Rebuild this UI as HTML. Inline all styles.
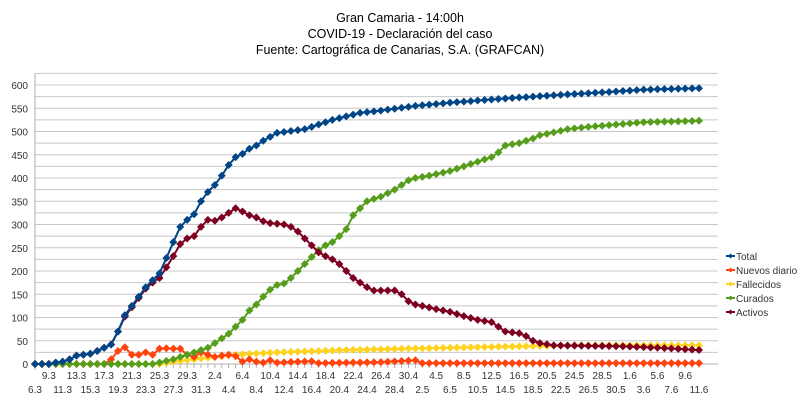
<!DOCTYPE html><html><head><meta charset="utf-8"><style>body{margin:0;background:#fff}svg{display:block;font-family:"Liberation Sans",sans-serif}</style></head><body>
<svg id="s" width="800" height="413" xmlns="http://www.w3.org/2000/svg">
<text x="400" y="22" font-size="12.5" text-anchor="middle">Gran Camaria - 14:00h</text>
<text x="400" y="38" font-size="12.5" text-anchor="middle">COVID-19 - Declaración del caso</text>
<text x="400" y="54" font-size="12.5" text-anchor="middle">Fuente: Cartográfica de Canarias, S.A. (GRAFCAN)</text>
<g id="g"></g>
</svg>
<script>
var NS="http://www.w3.org/2000/svg",g=document.getElementById('g');
function el(t,a,txt){var e=document.createElementNS(NS,t);for(var k in a)e.setAttribute(k,a[k]);if(txt!=null)e.textContent=txt;g.appendChild(e);return e;}
var X0=35,X1=718,Y0=364,K=0.465,N=97,DX=(699-35)/96;
function Y(v){return Y0-v*K}
for(var v=0;v<=625;v+=25){el('line',{x1:X0,x2:X1,y1:Y(v),y2:Y(v),stroke:'#c8c8c8','stroke-width':1});if(v%50==0)el('text',{x:28,y:Y(v)+4,'font-size':10,'text-anchor':'end',fill:'#333'},v)}
el('line',{x1:X0,x2:X0,y1:Y(625),y2:370,stroke:'#b0b0b0'});
el('line',{x1:X0,x2:X1,y1:Y0,y2:Y0,stroke:'#b0b0b0'});
var months=[[3,8,31],[4,1,30],[5,1,31],[6,1,11]],lab=['6.3'];
months.forEach(function(m){for(var d=m[1];d<=m[2];d++)lab.push(d+'.'+m[0])});
for(var i=0;i<N;i++){var x=X0+i*DX;el('line',{x1:x,x2:x,y1:Y0,y2:Y0+4,stroke:'#b0b0b0'});
if(i%2==0){var row=(i%4==0)?1:0;el('text',{x:x,y:row?393:379,'font-size':10,'text-anchor':'middle',fill:'#333'},lab[i])}}
function interp(kf){var out=[];for(var i=0;i<N;i++){for(var j=0;j<kf.length-1;j++){var a=kf[j],b=kf[j+1];if(i>=a[0]&&i<=b[0]){out.push(a[1]+(b[1]-a[1])*(i-a[0])/(b[0]-a[0]||1));break;}}}return out}
var total=interp([[0,0],[2,0],[3,3],[4,5],[5,10],[6,18],[7,20],[8,22],[9,28],[10,35],[11,42],[12,70],[13,105],[14,125],[15,145],[16,165],[17,180],[18,195],[19,228],[20,262],[21,295],[22,310],[23,322],[24,350],[25,370],[26,385],[27,405],[28,428],[29,445],[30,452],[31,463],[32,470],[33,480],[35,497],[39,505],[43,525],[47,540],[50,545],[55,555],[60,562],[67,570],[75,578],[83,585],[88,590],[96,593]]);
var act=interp([[0,0],[2,0],[3,3],[4,5],[5,10],[6,18],[7,20],[8,22],[9,28],[10,35],[11,42],[12,70],[13,102],[14,122],[15,142],[16,162],[17,175],[18,185],[19,208],[20,232],[21,258],[22,270],[23,275],[24,295],[25,310],[26,308],[27,315],[28,325],[29,335],[30,328],[31,320],[32,315],[33,307],[34,303],[36,300],[37,295],[38,285],[39,270],[40,255],[41,240],[42,232],[43,225],[44,215],[45,200],[46,185],[47,175],[48,165],[49,158],[52,158],[53,150],[54,135],[55,128],[56,125],[58,118],[60,112],[62,103],[64,95],[66,90],[67,80],[68,70],[70,66],[71,60],[72,50],[73,45],[75,40],[85,38],[90,35],[96,30]]);
var cur=interp([[0,0],[17,0],[20,10],[22,20],[24,30],[25,35],[26,45],[27,55],[28,65],[29,80],[30,95],[31,115],[32,128],[33,145],[34,160],[35,170],[36,173],[37,185],[38,200],[39,215],[40,230],[41,245],[42,255],[43,262],[44,275],[45,290],[46,320],[47,335],[48,350],[49,355],[50,360],[52,375],[54,395],[55,400],[57,405],[60,415],[62,425],[64,435],[66,445],[67,455],[68,470],[70,475],[72,485],[73,492],[75,498],[77,505],[80,510],[84,515],[88,520],[96,523]]);
var fal=interp([[0,0],[18,0],[20,5],[24,12],[29,20],[35,25],[45,30],[60,35],[70,38],[78,40],[96,40]]);
var nue=interp([[0,0],[10,0],[11,10],[12,28],[13,36],[14,20],[15,20],[16,25],[17,20],[18,33],[19,34],[20,33],[21,33],[22,20],[23,15],[24,25],[25,20],[26,15],[27,18],[28,20],[29,17],[30,5],[31,10],[32,5],[33,3],[34,8],[35,3],[40,6],[41,2],[50,4],[55,8],[56,2],[96,2]]);
function series(d,c){var p=d.map(function(v,i){return (X0+i*DX).toFixed(1)+','+Y(v).toFixed(1)}).join(' ');
el('polyline',{points:p,fill:'none',stroke:c,'stroke-width':2});
d.forEach(function(v,i){var x=X0+i*DX,y=Y(v);el('path',{d:'M'+x+' '+(y-4)+'L'+(x+4)+' '+y+'L'+x+' '+(y+4)+'L'+(x-4)+' '+y+'Z',fill:c})})}
series(fal,'#ffd320');series(nue,'#ff420e');series(cur,'#579d1c');series(act,'#7e0021');series(total,'#004586');
var L=[['Total','#004586'],['Nuevos diario','#ff420e'],['Fallecidos','#ffd320'],['Curados','#579d1c'],['Activos','#7e0021']];
L.forEach(function(l,i){var y=256+i*14;el('line',{x1:726,x2:735,y1:y,y2:y,stroke:l[1],'stroke-width':2});el('path',{d:'M730.5 '+(y-2.5)+'l2.5 2.5l-2.5 2.5l-2.5 -2.5z',fill:l[1]});el('text',{x:736,y:y+4,'font-size':10,fill:'#333'},l[0])});
</script></body></html>
